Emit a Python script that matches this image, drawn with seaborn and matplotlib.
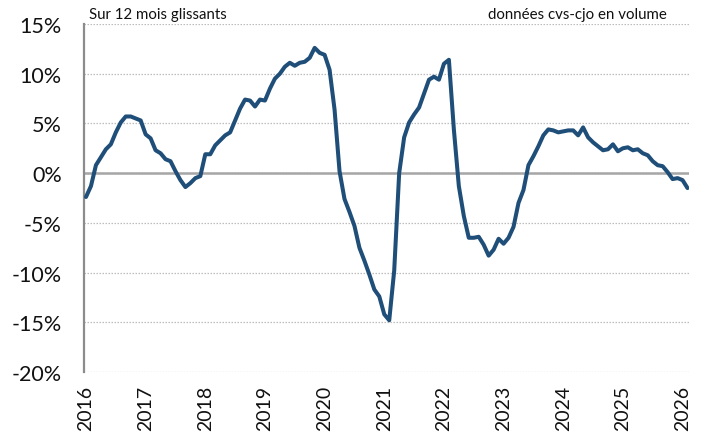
import matplotlib
matplotlib.use("Agg")
import matplotlib.pyplot as plt
import numpy as np
import pandas as pd
import seaborn as sns

# Glissement annuel (sur 12 mois glissants), mensuel, janv. 2016 -> fév. 2026, en %
v2016 = [-2.4, -1.3, 0.8, 1.6, 2.4, 2.9, 4.1, 5.1, 5.7, 5.7, 5.5, 5.3]
v2017 = [3.9, 3.5, 2.3, 2.0, 1.4, 1.2, 0.2, -0.7, -1.4, -1.0, -0.5, -0.3]
v2018 = [1.9, 1.9, 2.8, 3.3, 3.8, 4.1, 5.3, 6.5, 7.4, 7.3, 6.7, 7.4]
v2019 = [7.3, 8.5, 9.5, 10.0, 10.7, 11.1, 10.8, 11.1, 11.2, 11.6, 12.6, 12.1]
v2020 = [11.9, 10.4, 6.4, 0.2, -2.6, -3.9, -5.3, -7.5, -8.8, -10.2, -11.7, -12.4]
v2021 = [-14.2, -14.8, -9.8, 0.0, 3.6, 5.1, 5.9, 6.6, 8.0, 9.4, 9.7, 9.4]
v2022 = [11.0, 11.4, 4.4, -1.3, -4.3, -6.5, -6.5, -6.4, -7.2, -8.3, -7.7, -6.6]
v2023 = [-7.1, -6.5, -5.4, -3.0, -1.7, 0.8, 1.7, 2.7, 3.8, 4.4, 4.3, 4.1]
v2024 = [4.2, 4.3, 4.3, 3.8, 4.6, 3.6, 3.1, 2.7, 2.3, 2.4, 2.9, 2.2]
v2025 = [2.5, 2.6, 2.3, 2.4, 2.0, 1.8, 1.2, 0.8, 0.7, 0.1, -0.6, -0.5]
v2026 = [-0.7, -1.5]

years = list(range(2016, 2027))
year_labels = [str(y) for y in years]
y_ticks = [-20, -15, -10, -5, 0, 5, 10, 15]

values = v2016 + v2017 + v2018 + v2019 + v2020 + v2021 + v2022 + v2023 + v2024 + v2025 + v2026
df = pd.DataFrame({"mois": np.arange(len(values)), "glissement": values})

sns.set_style("white")
plt.rcParams["font.family"] = ["Lato", "DejaVu Sans"]

W, H = 707, 439
fig = plt.figure(figsize=(W / 100, H / 100), dpi=100)
ax = fig.add_axes([84 / W, 1 - 373 / H, (689 - 84) / W, (373 - 25) / H])

sns.lineplot(data=df, x="mois", y="glissement", ax=ax, color="#1F4E79",
             linewidth=2.9, zorder=3)

ax.set_xlim(-0.4, 121.3)
ax.set_ylim(-20, 15)
ax.set_yticks(y_ticks)
ax.set_yticklabels([f"{t}%" for t in y_ticks])
ax.set_xticks([12 * k for k in range(len(years))])
ax.set_xticklabels(year_labels, rotation=90)
ax.set_xlabel("")
ax.set_ylabel("")

ax.grid(axis="y", linestyle=(0, (1.2, 1.2)), color="#bdbdbd", linewidth=0.9)
ax.grid(axis="x", visible=False)
ax.axhline(0, color="#a6a6a6", linewidth=1.8, zorder=2)

for s in ["top", "right", "bottom"]:
    ax.spines[s].set_visible(False)
ax.spines["left"].set_color("#8c8c8c")
ax.spines["left"].set_linewidth(1.6)

ax.tick_params(axis="y", length=5, width=1.5, color="#8c8c8c", pad=11,
               labelsize=15.5, labelcolor="#111111")
ax.tick_params(axis="x", length=0, pad=9, labelsize=14, labelcolor="#111111")

fig.text(89 / W, 1 - 18.5 / H, "Sur 12 mois glissants", fontsize=10.8,
         va="baseline", ha="left", color="#111111")
fig.text(667 / W, 1 - 18.5 / H, "données cvs-cjo en volume", fontsize=10.8,
         va="baseline", ha="right", color="#111111")

fig.savefig("out.png", dpi=100)
